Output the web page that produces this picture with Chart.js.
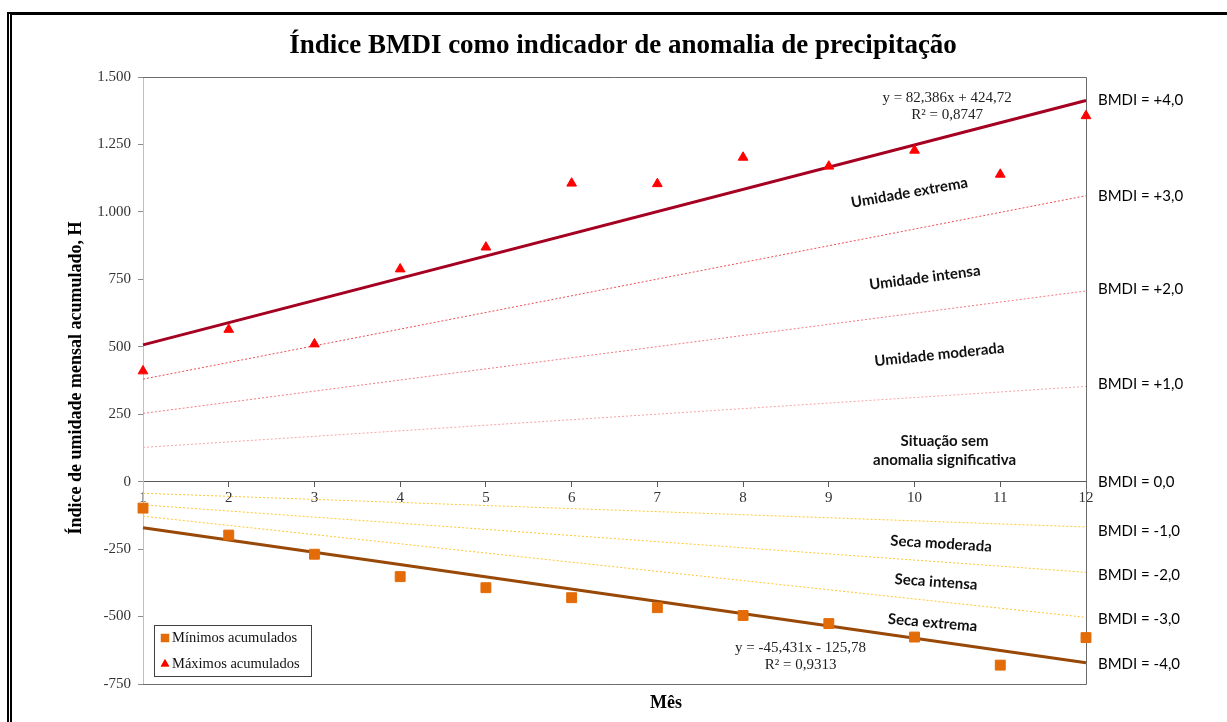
<!DOCTYPE html>
<html lang="pt-BR">
<head>
<meta charset="utf-8">
<title>Índice BMDI</title>
<script src="https://cdn.jsdelivr.net/npm/chart.js@4.4.1/dist/chart.umd.min.js"></script>
<style>
  body { margin: 0; background: #fff; }
  #wrap { position: relative; width: 1227px; height: 722px; overflow: hidden; }
  #wrap canvas { position: absolute; left: 0; top: 0; }
  #moldura { position: absolute; left: 7px; top: 12px; right: -10px; bottom: -10px;
             border-top: 3px solid #000; border-left: 5px double #000; pointer-events: none; }
</style>
</head>
<body>
<div id="wrap">
  <canvas id="bmdiChart" width="1227" height="722"></canvas>
  <div id="moldura"></div>
</div>
<script>
// Dados
const meses = [1, 2, 3, 4, 5, 6, 7, 8, 9, 10, 11, 12];
const maximos = [410, 564, 510, 788, 869, 1106, 1104, 1202, 1169, 1228, 1139, 1356];
const minimos = [-98, -198, -269, -352, -393, -430, -467, -496, -526, -576, -680, -578];

// Retas de tendência (valor no mês 1 e no mês 12)
const tendenciaMax = [507, 1413];
const tendenciaMin = [-171, -671];

// Linhas pontilhadas BMDI (mês 1, mês 12)
const bmdiPositivo = [[380, 1060], [253, 707], [127, 353]];   // +3, +2, +1
const bmdiNegativo = [[-43, -168], [-86, -336], [-128, -503]]; // -1, -2, -3

// Rótulos à direita
const bmdiRotulos = ['BMDI = +4,0', 'BMDI = +3,0', 'BMDI = +2,0', 'BMDI = +1,0', 'BMDI = 0,0',
                     'BMDI = -1,0', 'BMDI = -2,0', 'BMDI = -3,0', 'BMDI = -4,0'];
const bmdiRotuloValor = [1416, 1060, 712, 360, 0, -182, -345, -508, -675];

// Faixas de classificação
const faixaTexto = ['Umidade extrema', 'Umidade intensa', 'Umidade moderada', 'Situação sem',
                    'anomalia significativa', 'Seca moderada', 'Seca intensa', 'Seca extrema'];
const faixaMes = [9.94, 10.12, 10.29, 10.35, 10.35, 10.31, 10.25, 10.21];
const faixaValor = [1071, 756, 471, 152, 78, -230, -372, -523];
const faixaAngulo = [-10, -7.5, -6, 0, 0, 3.5, 4, 5];

// Equações das tendências
const equacaoTexto = ['y = 82,386x + 424,72', 'R² = 0,8747', 'y = -45,431x - 125,78', 'R² = 0,9313'];
const equacaoMes = [10.38, 10.38, 8.67, 8.67];
const equacaoValor = [1423, 1360, -616, -678];

const yTicks = { min: -750, max: 1500, passo: 250 };

const corMin = '#E36C09';
const corMax = '#FF0000';
const serif = "'Liberation Serif', 'Times New Roman', serif";
const sans = "Lato, 'Open Sans', sans-serif";

function formatarMilhar(v) {
    return (v < 0 ? '-' : '') + Math.abs(v).toString().replace(/\B(?=(\d{3})+(?!\d))/g, '.');
}

function reta(extremos) {
    return [{ x: meses[0], y: extremos[0] }, { x: meses[meses.length - 1], y: extremos[1] }];
}

const datasets = [
    {
        label: 'Mínimos acumulados',
        data: meses.map((m, i) => ({ x: m, y: minimos[i] })),
        pointStyle: 'rect', pointRadius: 7, pointBorderWidth: 1,
        backgroundColor: corMin, borderColor: corMin, showLine: false
    },
    {
        label: 'Máximos acumulados',
        data: meses.map((m, i) => ({ x: m, y: maximos[i] })),
        pointStyle: 'triangle', pointRadius: 5.6, pointBorderWidth: 1,
        backgroundColor: corMax, borderColor: corMax, showLine: false
    },
    {
        label: 'Tendência máximos', data: reta(tendenciaMax), showLine: true,
        borderColor: '#A50021', borderWidth: 3, pointRadius: 0
    },
    {
        label: 'Tendência mínimos', data: reta(tendenciaMin), showLine: true,
        borderColor: '#984807', borderWidth: 3, pointRadius: 0
    }
];

const coresPos = ['#EE4B55', '#F27A80', '#F6A3A7'];
bmdiPositivo.forEach((e, i) => datasets.push({
    label: 'BMDI +' + (3 - i), data: reta(e), showLine: true,
    borderColor: coresPos[i], borderWidth: 1, borderDash: [2, 2], pointRadius: 0
}));
bmdiNegativo.forEach((e, i) => datasets.push({
    label: 'BMDI -' + (i + 1), data: reta(e), showLine: true,
    borderColor: '#FFC62A', borderWidth: 1, borderDash: [2, 2], pointRadius: 0
}));

function escrever(ctx, str, px, py, fonte, cor, angulo = 0, alinhamento = 'center') {
    ctx.save();
    ctx.translate(px, py);
    ctx.rotate(angulo * Math.PI / 180);
    ctx.font = fonte;
    ctx.fillStyle = cor;
    ctx.textAlign = alinhamento;
    ctx.textBaseline = 'middle';
    ctx.fillText(str, 0, 0);
    ctx.restore();
}

// Moldura da área de plotagem e textos extras
const decoracao = {
    id: 'decoracao',
    beforeDatasetsDraw(chart) {
        const { ctx, chartArea: a } = chart;
        ctx.save();
        ctx.strokeStyle = '#6b6b6b';
        ctx.lineWidth = 1;
        ctx.beginPath();
        ctx.moveTo(a.left, Math.round(a.top) + 0.5);
        ctx.lineTo(Math.round(a.right) + 0.5, Math.round(a.top) + 0.5);
        ctx.lineTo(Math.round(a.right) + 0.5, Math.round(a.bottom) + 0.5);
        ctx.lineTo(a.left, Math.round(a.bottom) + 0.5);
        ctx.stroke();
        ctx.restore();
    },
    afterDraw(chart) {
        const { ctx, chartArea: a, scales: { x, y } } = chart;

        // Título
        ctx.save();
        ctx.font = 'bold 27px ' + serif;
        ctx.fillStyle = '#000';
        ctx.textAlign = 'center';
        ctx.textBaseline = 'alphabetic';
        ctx.fillText('Índice BMDI como indicador de anomalia de precipitação', 623, 53);
        ctx.restore();

        // Títulos dos eixos
        escrever(ctx, 'Índice de umidade mensal acumulado, H', 76, 378, 'bold 18px ' + serif, '#000', -90);
        escrever(ctx, 'Mês', 666, 703, 'bold 18px ' + serif, '#000');

        // Rótulos BMDI
        bmdiRotulos.forEach((t, i) => {
            escrever(ctx, t, a.right + 12, y.getPixelForValue(bmdiRotuloValor[i]), '15px ' + sans, '#000', 0, 'left');
        });

        // Faixas
        faixaTexto.forEach((t, i) => {
            escrever(ctx, t, x.getPixelForValue(faixaMes[i]), y.getPixelForValue(faixaValor[i]),
                'bold 15px ' + sans, '#111', faixaAngulo[i]);
        });

        // Equações
        equacaoTexto.forEach((t, i) => {
            escrever(ctx, t, x.getPixelForValue(equacaoMes[i]), y.getPixelForValue(equacaoValor[i]),
                '15px ' + serif, '#222');
        });

        // Legenda
        const lx = 154, ly = 625, lw = 157, lh = 51;
        ctx.save();
        ctx.fillStyle = '#fff';
        ctx.fillRect(lx, ly, lw, lh);
        ctx.strokeStyle = '#404040';
        ctx.lineWidth = 1;
        ctx.strokeRect(lx + 0.5, ly + 0.5, lw, lh);
        [0, 1].forEach(i => {
            const ds = chart.data.datasets[i];
            const cy = ly + 13 + i * 26;
            Chart.helpers.drawPoint(ctx, {
                pointStyle: ds.pointStyle, radius: i === 0 ? 6 : 5, rotation: 0, borderWidth: 0
            }, lx + 11, cy);
            ctx.fillStyle = ds.backgroundColor;
            ctx.fill();
            escrever(ctx, ds.label, lx + 18, cy, '14.5px ' + serif, '#111', 0, 'left');
        });
        ctx.restore();
    }
};

new Chart(document.getElementById('bmdiChart'), {
    type: 'scatter',
    data: { datasets: datasets },
    options: {
        responsive: false,
        animation: false,
        clip: false,
        layout: { padding: { left: 0, right: 141, top: 77, bottom: 38 } },
        plugins: { legend: { display: false }, tooltip: { enabled: false } },
        scales: {
            x: {
                type: 'linear',
                position: { y: 0 },
                min: 1, max: 12,
                afterFit: s => { s.height = 0; },
                ticks: { stepSize: 1, autoSkip: false, maxRotation: 0, padding: 2,
                         color: '#333', font: { family: serif, size: 15 } },
                grid: { drawOnChartArea: false, tickLength: 5, color: '#595959' },
                border: { color: '#595959' }
            },
            y: {
                min: yTicks.min, max: yTicks.max,
                afterFit: s => { s.width = 143; },
                ticks: { stepSize: yTicks.passo, padding: 7, color: '#333',
                         font: { family: serif, size: 15 }, callback: v => formatarMilhar(v) },
                grid: { drawOnChartArea: false, tickLength: 5, color: '#8c8c8c' },
                border: { color: '#BFBFBF' }
            }
        }
    },
    plugins: [decoracao]
});
</script>
</body>
</html>
